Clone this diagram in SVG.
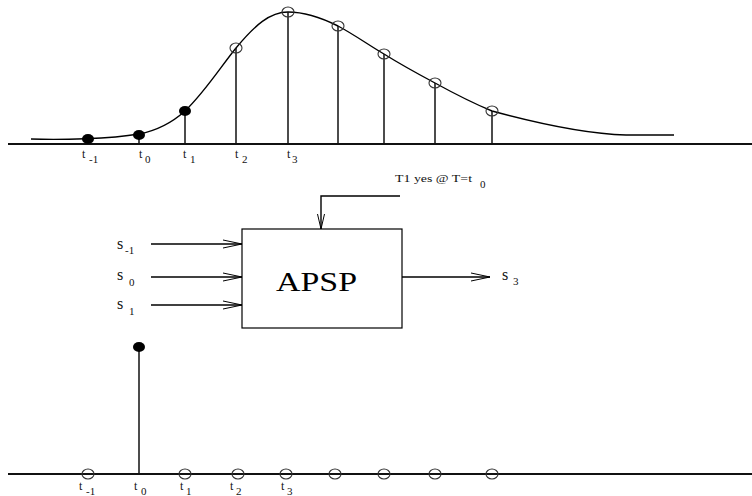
<svg xmlns="http://www.w3.org/2000/svg" width="752" height="496" viewBox="0 0 752 496">
<defs>
<style>
.ln{stroke:#000;stroke-width:1.4;fill:none}
.ax{stroke:#111;stroke-width:1.8;fill:none}
.st{stroke:#111;stroke-width:1.5;fill:none}
.oc{stroke:#333;stroke-width:1.1;fill:none}
.fd{fill:#000;stroke:none}
.lb{font-family:"Liberation Serif","Times New Roman",serif;font-size:12px;fill:#111}
.sl{font-family:"Liberation Serif","Times New Roman",serif;font-size:16px;fill:#111}
.sb{font-family:"Liberation Serif","Times New Roman",serif;font-size:11px;fill:#111}
.big{font-family:"Liberation Serif","Times New Roman",serif;font-size:27px;fill:#000}
.sm{font-family:"Liberation Serif","Times New Roman",serif;font-size:10.5px;fill:#111}
</style>
<marker id="ah" viewBox="0 0 19 10" refX="19" refY="5" markerWidth="19" markerHeight="10" markerUnits="userSpaceOnUse" orient="auto">
<path d="M0,1 L19,5 L0,9" fill="none" stroke="#000" stroke-width="1"/>
</marker>
<marker id="ahd" viewBox="0 0 15 10" refX="15" refY="5" markerWidth="15" markerHeight="10" markerUnits="userSpaceOnUse" orient="auto">
<path d="M0,1.5 L15,5 L0,8.5" fill="none" stroke="#000" stroke-width="1"/>
</marker>
</defs>
<rect width="752" height="496" fill="#fff"/>

<g id="top-plot">
<line class="ax" x1="8" y1="144" x2="752" y2="144"/>
<path class="ln" d="M31,139 C60,140 110,139 139,134 C160,130 175,120 185,111 C205,92 222,65 236,48 C255,25 270,12 288,12 C305,12 322,18 338,26 C355,35 370,46 384,54 C400,64 420,75 435,83 C455,94 475,104 492,111 C540,124 590,134 626,135 L674,135"/>
<line class="st" x1="139" y1="135" x2="139" y2="144"/>
<line class="st" x1="185" y1="111" x2="185" y2="144"/>
<line class="st" x1="236" y1="48" x2="236" y2="144"/>
<line class="st" x1="288" y1="12" x2="288" y2="144"/>
<line class="st" x1="338" y1="26" x2="338" y2="144"/>
<line class="st" x1="384" y1="54" x2="384" y2="144"/>
<line class="st" x1="435" y1="83" x2="435" y2="144"/>
<line class="st" x1="492" y1="111" x2="492" y2="144"/>
<ellipse class="fd" cx="88" cy="139" rx="6" ry="5"/>
<ellipse class="fd" cx="139" cy="135" rx="6" ry="5"/>
<ellipse class="fd" cx="185" cy="111" rx="6" ry="5"/>
<ellipse class="oc" cx="236" cy="48" rx="6" ry="5"/>
<ellipse class="oc" cx="288" cy="12" rx="6" ry="5"/>
<ellipse class="oc" cx="338" cy="26" rx="6" ry="5"/>
<ellipse class="oc" cx="384" cy="54" rx="6" ry="5"/>
<ellipse class="oc" cx="435" cy="83" rx="6" ry="5"/>
<ellipse class="oc" cx="492" cy="111" rx="6" ry="5"/>
<text class="lb" x="82" y="158">t</text><text class="sb" x="89" y="163">-1</text>
<text class="lb" x="139" y="158">t</text><text class="sb" x="145" y="163">0</text>
<text class="lb" x="183" y="158">t</text><text class="sb" x="190" y="163">1</text>
<text class="lb" x="235" y="158">t</text><text class="sb" x="242" y="163">2</text>
<text class="lb" x="287" y="158">t</text><text class="sb" x="292" y="163">3</text>
</g>

<g id="apsp">
<rect x="242" y="229" width="160" height="99" fill="#fff" stroke="#000" stroke-width="1.2"/>
<text class="big" x="276" y="291" textLength="81" lengthAdjust="spacingAndGlyphs">APSP</text>
</g>

<g id="labels">
<text class="sl" x="117" y="249">s</text><text class="sb" x="125" y="254">-1</text>
<text class="sl" x="117" y="280">s</text><text class="sb" x="129" y="286">0</text>
<text class="sl" x="117" y="309">s</text><text class="sb" x="129" y="315">1</text>
<text class="sl" x="502" y="280">s</text><text class="sb" x="513" y="285">3</text>
<text class="sm" x="395" y="182" textLength="77" lengthAdjust="spacingAndGlyphs">T1 yes @ T=t</text><text class="sb" x="480" y="188">0</text>
</g>

<g id="connectors">
<line class="ln" x1="151" y1="244" x2="242" y2="244" marker-end="url(#ah)"/>
<line class="ln" x1="151" y1="277" x2="242" y2="277" marker-end="url(#ah)"/>
<line class="ln" x1="151" y1="305" x2="242" y2="305" marker-end="url(#ah)"/>
<line class="ln" x1="402" y1="277" x2="490" y2="277" marker-end="url(#ah)"/>
<polyline class="ln" points="400,196 321,196 321,229" marker-end="url(#ahd)"/>
</g>

<g id="bottom-plot">
<line class="ax" x1="8" y1="474" x2="752" y2="474"/>
<line class="st" x1="139" y1="347" x2="139" y2="474"/>
<ellipse class="fd" cx="139" cy="347" rx="6" ry="5"/>
<ellipse class="oc" cx="88" cy="474" rx="6" ry="5"/>
<ellipse class="oc" cx="185" cy="474" rx="6" ry="5"/>
<ellipse class="oc" cx="238" cy="474" rx="6" ry="5"/>
<ellipse class="oc" cx="286" cy="474" rx="6" ry="5"/>
<ellipse class="oc" cx="335" cy="474" rx="6" ry="5"/>
<ellipse class="oc" cx="384" cy="474" rx="6" ry="5"/>
<ellipse class="oc" cx="435" cy="474" rx="6" ry="5"/>
<ellipse class="oc" cx="492" cy="474" rx="6" ry="5"/>
<text class="lb" x="79" y="490">t</text><text class="sb" x="86" y="495">-1</text>
<text class="lb" x="134" y="490">t</text><text class="sb" x="141" y="495">0</text>
<text class="lb" x="180" y="490">t</text><text class="sb" x="186" y="495">1</text>
<text class="lb" x="230" y="490">t</text><text class="sb" x="236" y="495">2</text>
<text class="lb" x="281" y="490">t</text><text class="sb" x="287" y="495">3</text>
</g>
</svg>
